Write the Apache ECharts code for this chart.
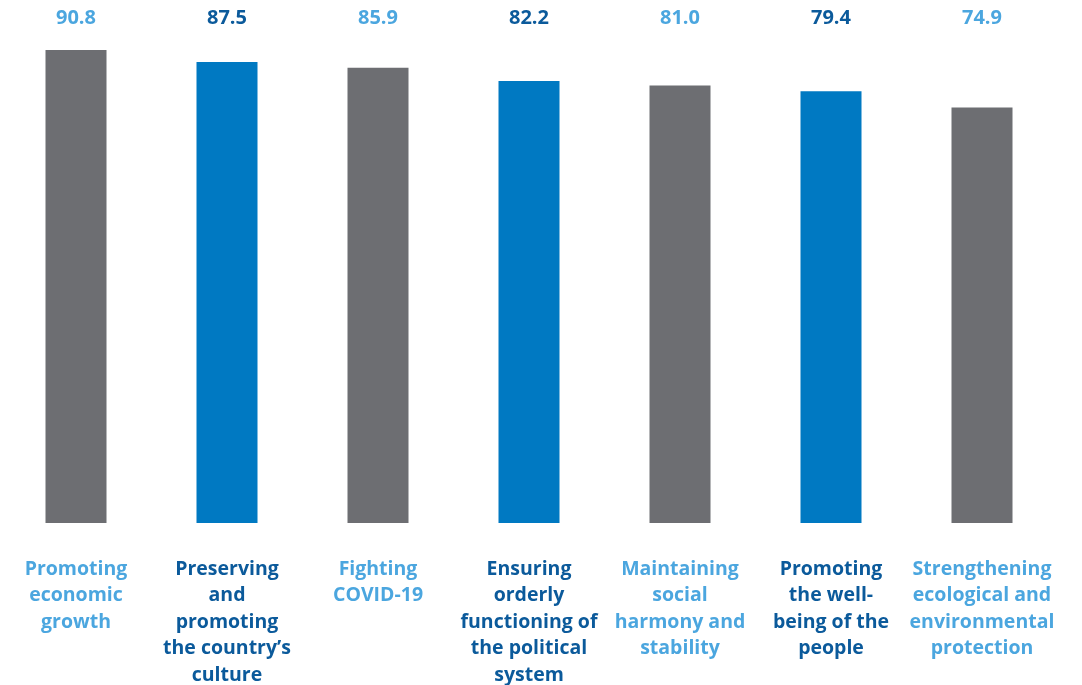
<!DOCTYPE html>
<html>
<head>
<meta charset="utf-8">
<script src="https://cdn.jsdelivr.net/npm/echarts@6/dist/echarts.min.js"></script>
<style>
    html, body { margin: 0; padding: 0; background: #fff; }
    #main { width: 1082px; height: 685px; }
</style>
</head>
<body>
<div id="main"></div>
<script>
    // 类别（手动换行）
    var categories = [
        'Promoting\neconomic\ngrowth',
        'Preserving\nand\npromoting\nthe country\u2019s\nculture',
        'Fighting\nCOVID-19',
        'Ensuring\norderly\nfunctioning of\nthe political\nsystem',
        'Maintaining\nsocial\nharmony and\nstability',
        'Promoting\nthe well-\nbeing of the\npeople',
        'Strengthening\necological and\nenvironmental\nprotection'
    ];
    var values = [90.8, 87.5, 85.9, 82.2, 81.0, 79.4, 74.9];

    var barColors = ['#6d6e72', '#0079c2'];
    var textColors = ['#4ba6df', '#0b5a9b'];
    var font = '"Open Sans", sans-serif';

    var myChart = echarts.init(document.getElementById('main'));

    myChart.setOption({
        animation: false,
        grid: {
            left: 0.5, right: 24.5, top: 50, bottom: 162,
            containLabel: false,
            outerBoundsMode: 'none'
        },
        xAxis: [
            {
                type: 'category',
                position: 'bottom',
                data: categories.map(function (c, i) {
                    return { value: c, textStyle: { color: textColors[i % 2] } };
                }),
                axisLine: { show: false },
                axisTick: { show: false },
                axisLabel: {
                    interval: 0,
                    margin: 33,
                    fontFamily: font,
                    fontWeight: 700,
                    fontSize: 19.5,
                    lineHeight: 26.5,
                    verticalAlign: 'top'
                }
            },
            {
                type: 'category',
                position: 'top',
                data: values.map(function (v, i) {
                    return { value: v.toFixed(1), textStyle: { color: textColors[i % 2] } };
                }),
                axisLine: { show: false },
                axisTick: { show: false },
                axisLabel: {
                    interval: 0,
                    margin: 22,
                    fontFamily: font,
                    fontWeight: 700,
                    fontSize: 20
                }
            }
        ],
        yAxis: {
            type: 'value',
            min: -40,
            max: 90.8,
            startValue: -40,
            show: false,
            splitLine: { show: false }
        },
        series: [{
            type: 'bar',
            barWidth: 61,
            data: values.map(function (v, i) {
                return { value: v, itemStyle: { color: barColors[i % 2] } };
            })
        }]
    });
</script>
</body>
</html>
